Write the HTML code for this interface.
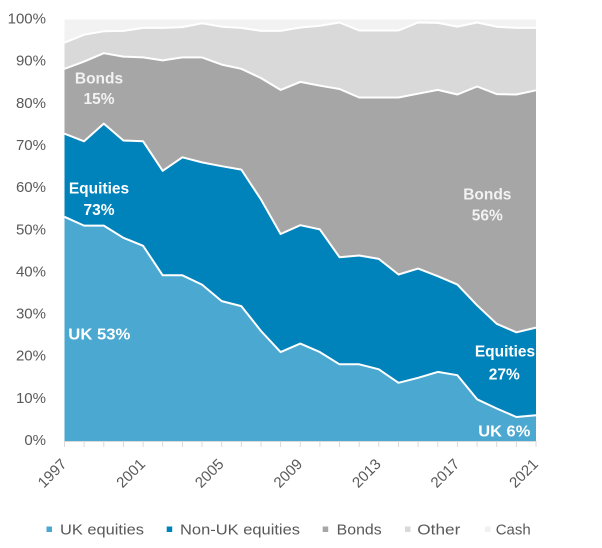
<!DOCTYPE html>
<html>
<head>
<meta charset="utf-8">
<style>
  html, body { margin: 0; padding: 0; background: #ffffff; }
  svg { display: block; }
  text { font-family: "Liberation Sans", sans-serif; }
</style>
</head>
<body>
<svg width="602" height="548" viewBox="0 0 602 548" xmlns="http://www.w3.org/2000/svg">
  <rect x="0" y="0" width="602" height="548" fill="#ffffff"/>

  <!-- Cash (background full) -->
  <rect x="64.5" y="19.5" width="471.5" height="421.5" fill="#f2f2f2"/>

  <!-- Other -->
  <polygon fill="#d9d9d9" points="64.5,42.7 84.1,34.7 103.8,31.3 123.4,30.9 143.1,27.9 162.7,27.9 182.4,27.1 202.0,23.3 221.7,26.7 241.3,27.9 261.0,30.9 280.6,30.9 300.3,27.5 319.9,25.8 339.5,22.5 359.2,30.5 378.8,30.5 398.5,30.5 418.1,22.5 437.8,22.9 457.4,26.7 477.1,22.5 496.7,26.7 516.4,27.9 536.0,27.9 536.0,441 64.5,441"/>

  <!-- Bonds -->
  <polygon fill="#a6a6a6" points="64.5,68.8 84.1,61.6 103.8,53.2 123.4,56.6 143.1,57.4 162.7,60.4 182.4,57.4 202.0,57.4 221.7,64.6 241.3,68.8 261.0,78.1 280.6,89.9 300.3,81.9 319.9,85.7 339.5,89.0 359.2,97.5 378.8,97.5 398.5,97.5 418.1,93.7 437.8,89.9 457.4,94.5 477.1,86.5 496.7,94.1 516.4,94.5 536.0,90.3 536.0,441 64.5,441"/>

  <!-- Non-UK equities -->
  <polygon fill="#0082bb" points="64.5,133.7 84.1,141.3 103.8,123.6 123.4,140.5 143.1,141.3 162.7,170.8 182.4,157.3 202.0,162.4 221.7,166.2 241.3,169.6 261.0,199.5 280.6,234.0 300.3,225.2 319.9,229.4 339.5,257.2 359.2,255.5 378.8,258.9 398.5,274.5 418.1,268.6 437.8,276.2 457.4,284.6 477.1,305.3 496.7,323.8 516.4,332.3 536.0,327.6 536.0,441 64.5,441"/>

  <!-- UK equities -->
  <polygon fill="#4ba8d0" points="64.5,216.8 84.1,225.6 103.8,225.6 123.4,237.8 143.1,245.8 162.7,275.3 182.4,275.3 202.0,284.6 221.7,301.1 241.3,306.1 261.0,331.0 280.6,352.1 300.3,343.6 319.9,352.1 339.5,364.3 359.2,364.3 378.8,369.3 398.5,382.8 418.1,377.8 437.8,371.9 457.4,375.2 477.1,399.3 496.7,408.5 516.4,417.0 536.0,415.3 536.0,441 64.5,441"/>

  <!-- white separators -->
  <g fill="none" stroke="#ffffff" stroke-width="2" stroke-linejoin="round">
    <polyline points="64.5,42.7 84.1,34.7 103.8,31.3 123.4,30.9 143.1,27.9 162.7,27.9 182.4,27.1 202.0,23.3 221.7,26.7 241.3,27.9 261.0,30.9 280.6,30.9 300.3,27.5 319.9,25.8 339.5,22.5 359.2,30.5 378.8,30.5 398.5,30.5 418.1,22.5 437.8,22.9 457.4,26.7 477.1,22.5 496.7,26.7 516.4,27.9 536.0,27.9"/>
    <polyline points="64.5,68.8 84.1,61.6 103.8,53.2 123.4,56.6 143.1,57.4 162.7,60.4 182.4,57.4 202.0,57.4 221.7,64.6 241.3,68.8 261.0,78.1 280.6,89.9 300.3,81.9 319.9,85.7 339.5,89.0 359.2,97.5 378.8,97.5 398.5,97.5 418.1,93.7 437.8,89.9 457.4,94.5 477.1,86.5 496.7,94.1 516.4,94.5 536.0,90.3"/>
    <polyline points="64.5,133.7 84.1,141.3 103.8,123.6 123.4,140.5 143.1,141.3 162.7,170.8 182.4,157.3 202.0,162.4 221.7,166.2 241.3,169.6 261.0,199.5 280.6,234.0 300.3,225.2 319.9,229.4 339.5,257.2 359.2,255.5 378.8,258.9 398.5,274.5 418.1,268.6 437.8,276.2 457.4,284.6 477.1,305.3 496.7,323.8 516.4,332.3 536.0,327.6"/>
    <polyline points="64.5,216.8 84.1,225.6 103.8,225.6 123.4,237.8 143.1,245.8 162.7,275.3 182.4,275.3 202.0,284.6 221.7,301.1 241.3,306.1 261.0,331.0 280.6,352.1 300.3,343.6 319.9,352.1 339.5,364.3 359.2,364.3 378.8,369.3 398.5,382.8 418.1,377.8 437.8,371.9 457.4,375.2 477.1,399.3 496.7,408.5 516.4,417.0 536.0,415.3"/>
  </g>

  <!-- x axis + ticks -->
  <g stroke="#d9d9d9" stroke-width="1">
    <line x1="64.5" y1="441.5" x2="536" y2="441.5"/>
    <line x1="64.5" y1="441" x2="64.5" y2="447"/>
    <line x1="84.1" y1="441" x2="84.1" y2="447"/>
    <line x1="103.8" y1="441" x2="103.8" y2="447"/>
    <line x1="123.4" y1="441" x2="123.4" y2="447"/>
    <line x1="143.1" y1="441" x2="143.1" y2="447"/>
    <line x1="162.7" y1="441" x2="162.7" y2="447"/>
    <line x1="182.4" y1="441" x2="182.4" y2="447"/>
    <line x1="202.0" y1="441" x2="202.0" y2="447"/>
    <line x1="221.7" y1="441" x2="221.7" y2="447"/>
    <line x1="241.3" y1="441" x2="241.3" y2="447"/>
    <line x1="261.0" y1="441" x2="261.0" y2="447"/>
    <line x1="280.6" y1="441" x2="280.6" y2="447"/>
    <line x1="300.3" y1="441" x2="300.3" y2="447"/>
    <line x1="319.9" y1="441" x2="319.9" y2="447"/>
    <line x1="339.5" y1="441" x2="339.5" y2="447"/>
    <line x1="359.2" y1="441" x2="359.2" y2="447"/>
    <line x1="378.8" y1="441" x2="378.8" y2="447"/>
    <line x1="398.5" y1="441" x2="398.5" y2="447"/>
    <line x1="418.1" y1="441" x2="418.1" y2="447"/>
    <line x1="437.8" y1="441" x2="437.8" y2="447"/>
    <line x1="457.4" y1="441" x2="457.4" y2="447"/>
    <line x1="477.1" y1="441" x2="477.1" y2="447"/>
    <line x1="496.7" y1="441" x2="496.7" y2="447"/>
    <line x1="516.4" y1="441" x2="516.4" y2="447"/>
    <line x1="536.0" y1="441" x2="536.0" y2="447"/>
  </g>

  <!-- y labels -->
  <g font-size="15" fill="#595959" text-anchor="end">
    <text x="46" y="23.5">100%</text>
    <text x="46" y="65.7">90%</text>
    <text x="46" y="107.9">80%</text>
    <text x="46" y="150.0">70%</text>
    <text x="46" y="192.1">60%</text>
    <text x="46" y="234.3">50%</text>
    <text x="46" y="276.4">40%</text>
    <text x="46" y="318.6">30%</text>
    <text x="46" y="360.7">20%</text>
    <text x="46" y="402.9">10%</text>
    <text x="46" y="445.0">0%</text>
  </g>

  <!-- x labels -->
  <g font-size="15" fill="#595959" text-anchor="end">
    <text transform="translate(67.5,465) rotate(-45)">1997</text>
    <text transform="translate(146.1,465) rotate(-45)">2001</text>
    <text transform="translate(224.7,465) rotate(-45)">2005</text>
    <text transform="translate(303.3,465) rotate(-45)">2009</text>
    <text transform="translate(381.8,465) rotate(-45)">2013</text>
    <text transform="translate(460.4,465) rotate(-45)">2017</text>
    <text transform="translate(539,465) rotate(-45)">2021</text>
  </g>

  <!-- in-chart labels -->
  <g font-size="15.5" font-weight="bold" fill="#ffffff">
    <text x="99" y="83.3" text-anchor="middle" fill="#f2f2f2">Bonds</text>
    <text x="99" y="104" text-anchor="middle" fill="#f2f2f2">15%</text>
    <text x="99" y="193.3" text-anchor="middle">Equities</text>
    <text x="99" y="215" text-anchor="middle">73%</text>
    <text x="68.3" y="339.3" textLength="62" lengthAdjust="spacingAndGlyphs">UK 53%</text>
    <text x="487.3" y="199.3" text-anchor="middle" fill="#f2f2f2">Bonds</text>
    <text x="487.3" y="220.7" text-anchor="middle" fill="#f2f2f2">56%</text>
    <text x="505" y="356.7" text-anchor="middle">Equities</text>
    <text x="504.3" y="379.3" text-anchor="middle">27%</text>
    <text x="478.3" y="436.7" textLength="52" lengthAdjust="spacingAndGlyphs">UK 6%</text>
  </g>

  <!-- legend -->
  <rect x="46.5" y="526.5" width="5.5" height="5.5" fill="#4ba8d0"/>
  <rect x="166.7" y="526.5" width="5.5" height="5.5" fill="#0082bb"/>
  <rect x="322.7" y="526.5" width="5.5" height="5.5" fill="#a6a6a6"/>
  <rect x="405" y="526.5" width="5.5" height="5.5" fill="#d9d9d9"/>
  <rect x="485" y="526.5" width="5.5" height="5.5" fill="#f0f0f0"/>
  <g font-size="15" fill="#595959">
    <text x="60" y="534.3" textLength="84" lengthAdjust="spacingAndGlyphs">UK equities</text>
    <text x="180" y="534.3" textLength="120" lengthAdjust="spacingAndGlyphs">Non-UK equities</text>
    <text x="336.7" y="534.3" textLength="45" lengthAdjust="spacingAndGlyphs">Bonds</text>
    <text x="417.3" y="534.3" textLength="43" lengthAdjust="spacingAndGlyphs">Other</text>
    <text x="495.7" y="534.3" textLength="35" lengthAdjust="spacingAndGlyphs">Cash</text>
  </g>
</svg>
</body>
</html>
